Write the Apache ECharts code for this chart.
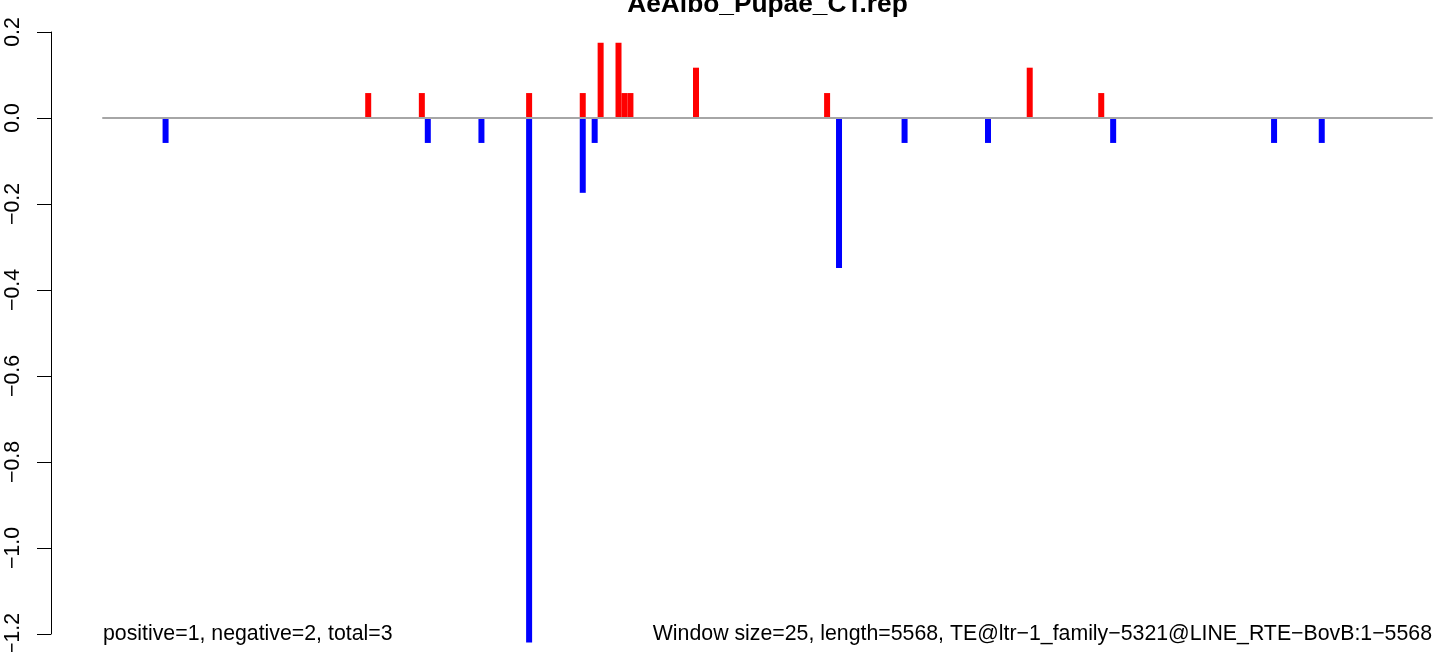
<!DOCTYPE html>
<html>
<head>
<meta charset="utf-8">
<script src="https://cdn.jsdelivr.net/npm/echarts@6/dist/echarts.min.js"></script>
<style>
html,body{margin:0;padding:0;background:#fff;}
#chart{width:1444px;height:652px;}
</style>
</head>
<body>
<div id="chart"></div>
<script>
const titleText = 'AeAlbo_Pupae_CT.rep';
const leftNote = 'positive=1, negative=2, total=3';
const rightNote = 'Window size=25, length=5568, TE@ltr\u22121_family\u22125321@LINE_RTE\u2212BovB:1\u22125568';
const seqLength = 5568;
const windowSize = 25;
const yTicks = [0.2, 0.0, -0.2, -0.4, -0.6, -0.8, -1.0, -1.2];
const posWindows = [44, 53, 71, 80, 83, 86, 87, 88, 99, 121, 155, 167];
const posValues  = [0.058, 0.058, 0.058, 0.058, 0.175, 0.175, 0.058, 0.058, 0.117, 0.058, 0.117, 0.058];
const negWindows = [10, 54, 63, 71, 80, 82, 123, 134, 148, 169, 196, 204];
const negValues  = [-0.058, -0.058, -0.058, -1.22, -0.174, -0.058, -0.349, -0.058, -0.058, -0.058, -0.058, -0.058];

const nWin = Math.ceil(seqLength / windowSize);
const categories = [];
for (let i = 0; i < nWin; i++) categories.push(String(i * windowSize + 1));
const posData = categories.map(() => null);
const negData = categories.map(() => null);
posWindows.forEach((w, i) => { posData[w] = posValues[i]; });
negWindows.forEach((w, i) => { negData[w] = negValues[i]; });

const FONT = '"Liberation Sans", Arial, Helvetica, sans-serif';
const chart = echarts.init(document.getElementById('chart'), null, {renderer: 'canvas'});
chart.setOption({
  animation: false,
  backgroundColor: '#ffffff',
  grid: {left: 103, right: 12, top: 32, bottom: 18, containLabel: false, outerBoundsMode: 'none'},
  xAxis: {
    type: 'category',
    data: categories,
    boundaryGap: true,
    z: 5,
    axisLine: {show: true, onZero: true, lineStyle: {color: '#a6a6a6', width: 2}},
    axisTick: {show: false},
    axisLabel: {show: false},
    splitLine: {show: false}
  },
  yAxis: {
    type: 'value',
    min: -1.2,
    max: 0.2,
    interval: 0.2,
    offset: 52,
    axisLine: {show: true, onZero: false, lineStyle: {color: '#000', width: 1}},
    axisTick: {show: true, inside: false, length: 14, lineStyle: {color: '#000', width: 1}},
    axisLabel: {
      show: true,
      rotate: 90,
      margin: 27,
      color: '#000',
      fontFamily: FONT,
      fontSize: 21.3,
      hideOverlap: false,
      showMinLabel: true,
      showMaxLabel: true,
      formatter: v => v.toFixed(1).replace('-', '\u2212')
    },
    splitLine: {show: false}
  },
  series: [
    {
      name: 'positive', type: 'bar', data: posData, barWidth: 6, barGap: '-100%',
      itemStyle: {color: '#ff0000'}, clip: false
    },
    {
      name: 'negative', type: 'bar', data: negData, barWidth: 6, barGap: '-100%',
      itemStyle: {color: '#0000ff'}, clip: false
    }
  ],
  graphic: [
    {type: 'text', x: 767.5, y: 5, style: {text: titleText, font: 'bold 26.3px ' + FONT, fill: '#000', align: 'center', verticalAlign: 'middle'}},
    {type: 'text', x: 103, y: 634, style: {text: leftNote, font: '21.3px ' + FONT, fill: '#000', align: 'left', verticalAlign: 'middle'}},
    {type: 'text', x: 1432, y: 634, style: {text: rightNote, font: '21.3px ' + FONT, fill: '#000', align: 'right', verticalAlign: 'middle'}}
  ]
});
</script>
</body>
</html>
